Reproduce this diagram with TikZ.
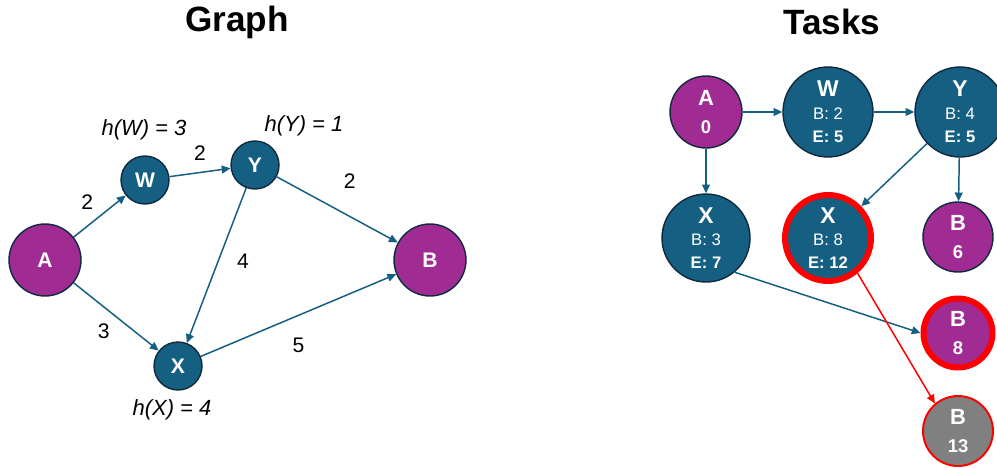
\documentclass[tikz,border=0pt]{standalone}
\usepackage{fontspec}
\setmainfont{Liberation Sans}
\usepackage{tikz}
\usetikzlibrary{arrows.meta,positioning}
\definecolor{navy}{HTML}{156082}
\definecolor{plum}{HTML}{A02B93}
\definecolor{rim}{HTML}{0E2A3C}
\definecolor{nodegrey}{HTML}{808080}
\newcommand{\taskinfo}[3]{{\fontsize{13}{13}\selectfont\bfseries #1}\\#2\\\textbf{#3}}
\newcommand{\goalinfo}[2]{{\fontsize{12.5}{16}\selectfont #1}\\#2}

\begin{document}
\begin{tikzpicture}[
  x=0.02cm, y=-0.02cm, >={Triangle[length=5pt,width=4.5pt]},
  heading/.style={font=\fontsize{20}{24}\selectfont\bfseries},
  vtx/.style={circle, draw=rim, line width=0.8pt, text=white, inner sep=0pt, font=\fontsize{12}{14}\selectfont\bfseries},
  endpt/.style={vtx, fill=plum, minimum size=1.44cm},
  midpt/.style={vtx, fill=navy, minimum size=0.96cm},
  heur/.style={font=\fontsize{12.5}{15}\selectfont\itshape},
  wt/.style={font=\fontsize{12}{14}\selectfont},
  link/.style={->, draw=navy, line width=0.85pt},
  task/.style={circle, draw=rim, line width=0.8pt, fill=navy, text=white, inner sep=0pt, minimum size=1.8cm, align=center, font=\fontsize{9.5}{13}\selectfont},
  goal/.style={task, fill=plum, minimum size=1.44cm, font=\fontsize{10.5}{16}\selectfont\bfseries},
  pruned/.style={draw=red, line width=3.4pt}]
  \useasboundingbox (0,0) rectangle (997,467);

  \node[heading] (gtitle) at (237,22) {Graph};
  \node[heading] (ttitle) at (832,22) {Tasks};

  % search graph with heuristic values
  \node[endpt] (A) at (45,260) {A};
  \node[midpt] (W) at (145,180) {W};
  \node[midpt] (Y) at (255,165) {Y};
  \node[midpt] (X) at (178,366) {X};
  \node[endpt] (B) at (430,260) {B};
  \node[heur] (hW) at (144,130) {h(W) = 3};
  \node[heur] (hY) at (304,126) {h(Y) = 1};
  \node[heur] (hX) at (172,410) {h(X) = 4};
  \draw[link] (A) -- node[wt, above left] {2} (W);
  \draw[link] (W) -- node[wt, above=3pt] {2} (Y);
  \draw[link] (Y) -- node[wt, above right, yshift=8pt] {2} (B);
  \draw[link] (Y) -- node[wt, pos=0.47, right=7pt] {4} (X);
  \draw[link] (A) -- node[wt, below left] {3} (X);
  \draw[link] (X) -- node[wt, below=9pt] {5} (B);

  % task tree
  \node[goal] (tA) at (706,112) {\goalinfo{A}{0}};
  \node[task] (tW) at (828,112) {\taskinfo{W}{B: 2}{E: 5}};
  \node[task] (tY) at (960,112) {\taskinfo{Y}{B: 4}{E: 5}};
  \node[task, minimum size=1.76cm] (tX) at (706,238) {\taskinfo{X}{B: 3}{E: 7}};
  \node[task, pruned, minimum size=1.72cm] (tXr) at (828,238) {\taskinfo{X}{B: 8}{E: 12}};
  \node[goal, minimum size=1.4cm] (tB6) at (958,237) {\goalinfo{B}{6}};
  \node[goal, pruned, minimum size=1.38cm] (tB8) at (958,333) {\goalinfo{B}{8}};
  \node[goal, fill=nodegrey, draw=red, line width=1.1pt, minimum size=1.4cm] (tB13) at (958,431) {\goalinfo{B}{13}};
  \draw[link] (tA) -- (tW);
  \draw[link] (tW) -- (tY);
  \draw[link] (tA) -- (tX);
  \draw[link] (tY) -- (tXr);
  \draw[link] (tY) -- (tB6);
  \draw[link] (tX.-50) -- (tB8.west);
  \draw[link, draw=red] (tXr.-50) -- (tB13.130);
\end{tikzpicture}
\end{document}
